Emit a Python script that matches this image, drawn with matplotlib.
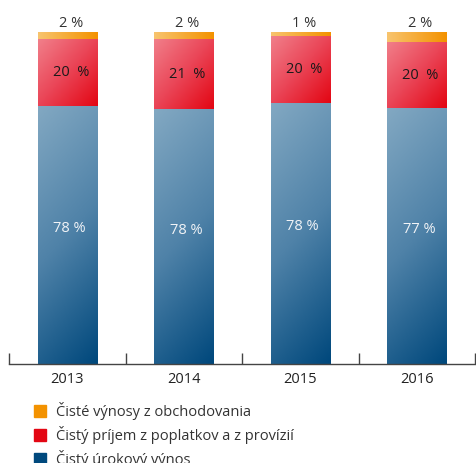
import numpy as np
import matplotlib
matplotlib.use("Agg")
import matplotlib.pyplot as plt
from matplotlib.colors import LinearSegmentedColormap
from matplotlib.lines import Line2D

years = ["2013", "2014", "2015", "2016"]
interest = [77.8, 76.7, 78.7, 77.0]
fees = [20.0, 21.2, 20.1, 20.0]
trading = [2.2, 2.1, 1.2, 3.0]
interest_labels = ["78 %", "78 %", "78 %", "77 %"]
fees_labels = ["20  %", "21  %", "20  %", "20  %"]
trading_labels = ["2 %", "2 %", "1 %", "2 %"]
legend_labels = ["Čisté výnosy z obchodovania",
                 "Čistý príjem z poplatkov a z provízií",
                 "Čistý úrokový výnos"]

plt.rcParams['font.family'] = ['Open Sans', 'DejaVu Sans']

fig = plt.figure(figsize=(4.76, 4.63), dpi=100)
ax = fig.add_axes([9/476, 1 - 364/463, 466/476, 332/463])

cmap_blue = LinearSegmentedColormap.from_list("b", ["#82a8c2", "#4f82a8", "#00487c"])
cmap_red = LinearSegmentedColormap.from_list("r", ["#f17f8a", "#ea4456", "#e30613"])
cmap_orange = LinearSegmentedColormap.from_list("o", ["#f8c46e", "#f39200"])

width = 0.51
x = np.arange(len(years))

def grad_bar(xc, bottom, height, cmap, mode):
    x0, x1 = xc - width/2, xc + width/2
    n = 64
    u = np.linspace(0, 1, n)
    X, Y = np.meshgrid(u, u)  # Y=0 at top row (origin upper)
    if mode == "v":
        g = 0.8 * Y + 0.2 * X
    elif mode == "d":
        g = 0.5 * Y + 0.5 * X
    else:
        g = X
    ax.imshow(g, cmap=cmap, extent=[x0, x1, bottom, bottom + height],
              aspect='auto', origin='upper', interpolation='bilinear', zorder=2)

for i in range(len(years)):
    grad_bar(x[i], 0, interest[i], cmap_blue, "v")
    grad_bar(x[i], interest[i], fees[i], cmap_red, "d")
    grad_bar(x[i], interest[i] + fees[i], trading[i], cmap_orange, "h")
    ax.text(x[i] + 0.02, interest[i] / 2 + 2, interest_labels[i], ha='center', va='center',
            color='#f2f4f7', fontsize=10.5, zorder=3)
    ax.text(x[i] + 0.03, interest[i] + fees[i] / 2, fees_labels[i], ha='center', va='center',
            color='#1a1a1a', fontsize=10.5, zorder=3)
    ax.text(x[i] + 0.03, interest[i] + fees[i] + trading[i] + 0.3, trading_labels[i],
            ha='center', va='bottom', color='#333333', fontsize=10.5, zorder=3)

ax.set_xlim(-0.5, 3.5)
ax.set_ylim(0, 100)
for s in ['top', 'right', 'left']:
    ax.spines[s].set_visible(False)
ax.spines['bottom'].set_color('#444444')
ax.spines['bottom'].set_linewidth(1.0)
ax.set_yticks([])
ax.set_xticks(x)
ax.set_xticklabels(years, fontsize=10.5, color='#222222')
ax.tick_params(axis='x', which='major', length=0, pad=6)
ax.set_xticks(np.arange(-0.5, 4.0, 1.0), minor=True)
ax.tick_params(axis='x', which='minor', direction='in', length=8, width=1.0, color='#444444')
ax.patch.set_visible(False)

handles = [Line2D([], [], marker='s', linestyle='none', markersize=8, color=c)
           for c in ["#f39200", "#e30613", "#00497d"]]
fig.legend(handles, legend_labels, loc='upper left', bbox_to_anchor=(33/476, 1 - 402/463),
           frameon=False, fontsize=10.5, labelspacing=0.42, handletextpad=0.55,
           handlelength=1.0, borderaxespad=0, borderpad=0, labelcolor='#333333')

fig.savefig("out.png", dpi=100)
